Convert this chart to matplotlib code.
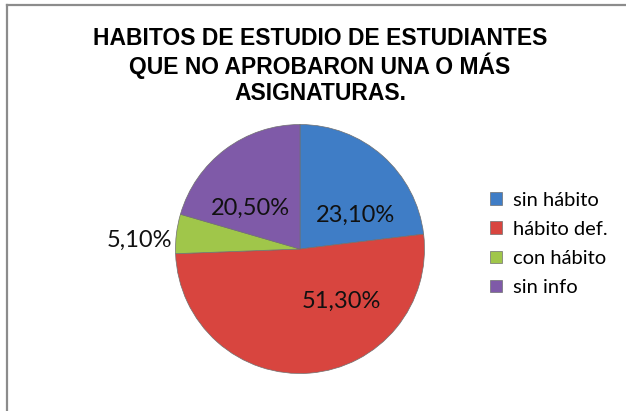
import numpy as np
import matplotlib.pyplot as plt
from matplotlib.lines import Line2D

categories = ['sin hábito', 'hábito def.', 'con hábito', 'sin info']
values = [23.1, 51.3, 5.1, 20.5]
labels = ['23,10%', '51,30%', '5,10%', '20,50%']
colors = ['#3f7dc6', '#d8453f', '#a0c64a', '#7f5aa8']

# label placement (radius as fraction of pie, angle in degrees)
label_pos = [(0.52, 31.7), (0.54, -51.6), (1.29, 177.0), (0.52, 140.6)]

W, H = 626, 411
fig = plt.figure(figsize=(W / 100, H / 100), dpi=100)

# chart frame (only top/left visible in the crop)
fig.add_artist(Line2D([6.5 / W, 6.5 / W], [0, 1 - 5.5 / H], color='#8c8c8c', lw=1.6))
fig.add_artist(Line2D([6.5 / W, 1], [1 - 5.5 / H, 1 - 5.5 / H], color='#8c8c8c', lw=1.6))

fig.text(320 / W, 1 - 66 / H,
         'HABITOS DE ESTUDIO DE ESTUDIANTES\nQUE NO APROBARON UNA O MÁS\nASIGNATURAS.',
         ha='center', va='center', fontsize=16.5, fontweight='bold',
         family='Liberation Sans', linespacing=1.12)

cx, cy, r = 300, 249, 124.5
ax = fig.add_axes([(cx - r) / W, (H - cy - r) / H, 2 * r / W, 2 * r / H])
wedges, _ = ax.pie(values, colors=colors, startangle=90, counterclock=False,
                   wedgeprops=dict(edgecolor='#707070', linewidth=0.5))
ax.set_xlim(-1, 1)
ax.set_ylim(-1, 1)
ax.set_aspect('equal')
ax.axis('off')

for lab, (rr, ang) in zip(labels, label_pos):
    a = np.deg2rad(ang)
    ax.text(rr * np.cos(a), rr * np.sin(a), lab, ha='center', va='center',
            fontsize=17, family='Lato', color='#111111', clip_on=False)

fig.legend(wedges, categories, loc='center left',
           bbox_to_anchor=(472 / W, 1 - 244 / H), frameon=False,
           prop=dict(family='Lato', size=14.5), handlelength=0.6,
           handleheight=0.6, handletextpad=0.55, labelspacing=0.6)

fig.savefig('out.png', dpi=100)
